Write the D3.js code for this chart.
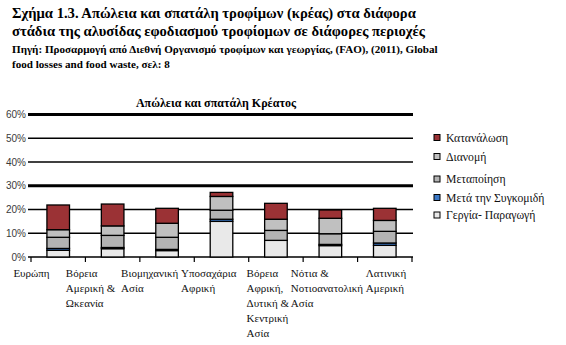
<!DOCTYPE html>
<html><head><meta charset="utf-8">
<script src="https://cdn.jsdelivr.net/npm/d3@7"></script>
<style>
body{margin:0;background:#fff;}
svg{display:block;}
</style></head>
<body>
<svg id="c" width="566" height="345"></svg>
<script>
// ---- data ----
const categories = [
  "Ευρώπη",
  "Βόρεια\nΑμερική &\nΩκεανία",
  "Βιομηχανική\nΑσία",
  "Υποσαχάρια\nΑφρική",
  "Βόρεια\nΑφρική,\nΔυτική &\nΚεντρική\nΑσία",
  "Νότια &\nΝοτιοανατολική\nΑσία",
  "Λατινική\nΑμερική"
];
const seriesNames = ["Γεργία- Παραγωγή", "Μετά την Συγκομιδή", "Μεταποίηση", "Διανομή", "Κατανάλωση"];
const production   = [2.8, 3.5, 2.7, 15.0, 7.0, 4.8, 4.9];
const postHarvest  = [0.8, 0.5, 0.5, 0.9, 0.0, 0.5, 1.0];
const processing   = [4.7, 5.1, 5.1, 3.8, 4.2, 4.5, 4.9];
const distribution = [3.2, 4.0, 5.9, 5.8, 4.7, 6.5, 4.6];
const consumption  = [10.4, 9.2, 6.3, 1.7, 6.7, 3.5, 5.1];
const yTicks = [0, 0.1, 0.2, 0.3, 0.4, 0.5, 0.6];
const titleLines = [
  "Σχήμα 1.3. Απώλεια και σπατάλη τροφίμων (κρέας) στα διάφορα",
  "στάδια της αλυσίδας εφοδιασμού τροφίομων σε διάφορες περιοχές"
];
const sourceLines = [
  "Πηγή: Προσαρμογή από Διεθνή Οργανισμό τροφίμων και γεωργίας, (FAO), (2011),  Global",
  "food losses and food waste, σελ: 8"
];
const chartTitle = "Απώλεια και σπατάλη Κρέατος";

// ---- build ----
const colors = {
  "Γεργία- Παραγωγή": "#e9e9e9",
  "Μετά την Συγκομιδή": "#3b78c6",
  "Μεταποίηση": "#b3b3b3",
  "Διανομή": "#c0c0c0",
  "Κατανάλωση": "#9b3235"
};
const seriesValues = [production, postHarvest, processing, distribution, consumption];
const table = categories.map((c, i) => {
  const row = {cat: c};
  seriesNames.forEach((s, j) => row[s] = seriesValues[j][i] / 100);
  return row;
});

const svg = d3.select("#c");
const serif = "'Liberation Serif','Times New Roman',serif";

// titles
svg.append("g").selectAll("text").data(titleLines).join("text")
  .attr("x", 12).attr("y", (d, i) => 18 + i * 17.5)
  .attr("font-family", serif).attr("font-weight", "bold").attr("font-size", 14.6)
  .text(d => d);
svg.append("g").selectAll("text").data(sourceLines).join("text")
  .attr("x", 12).attr("y", (d, i) => 53 + i * 14.5)
  .attr("font-family", serif).attr("font-weight", "bold").attr("font-size", 11.1)
  .text(d => d);

svg.append("text").attr("x", 216).attr("y", 107).attr("text-anchor", "middle")
  .attr("font-family", serif).attr("font-weight", "bold").attr("font-size", 12)
  .text(chartTitle);

const x = d3.scaleBand().domain(categories).range([31, 412])
  .paddingInner(0.585).paddingOuter(0.2925);
const y = d3.scaleLinear().domain([0, 0.6]).range([257, 114.5]);

// gridlines
svg.append("g").selectAll("line").data(yTicks).join("line")
  .attr("x1", 28).attr("x2", 413)
  .attr("y1", d => y(d)).attr("y2", d => y(d))
  .attr("stroke", "#000")
  .attr("stroke-width", d => (Math.abs(d - 0.3) < 1e-9 || Math.abs(d - 0.6) < 1e-9) ? 3 : 1.5);

// y labels
svg.append("g").selectAll("text").data(yTicks).join("text")
  .attr("x", 26).attr("y", d => y(d)).attr("dy", "0.35em")
  .attr("text-anchor", "end")
  .attr("font-family", "'Liberation Sans',Arial,sans-serif").attr("font-size", 10)
  .attr("fill", "#3a3a3a")
  .text(d => d3.format(".0%")(d));

// ticks at category boundaries
const bounds = categories.map(c => x(c) + x.bandwidth() / 2 - x.step() / 2);
bounds.push(x(categories[categories.length - 1]) + x.bandwidth() / 2 + x.step() / 2);
svg.append("g").selectAll("line").data(bounds).join("line")
  .attr("x1", d => d).attr("x2", d => d).attr("y1", 257).attr("y2", 262)
  .attr("stroke", "#000").attr("stroke-width", 1.2);

// bars
const stack = d3.stack().keys(seriesNames)(table);
svg.append("g").selectAll("g").data(stack).join("g")
  .attr("fill", d => colors[d.key])
  .selectAll("rect").data(d => d).join("rect")
  .attr("x", d => x(d.data.cat))
  .attr("width", x.bandwidth())
  .attr("y", d => y(d[1]))
  .attr("height", d => y(d[0]) - y(d[1]))
  .attr("stroke", "#000").attr("stroke-width", 1.3);

// x labels
const lx = d3.scalePoint().domain(categories).range([31.5, 386]);
categories.forEach(c => {
  const g = svg.append("g");
  const lines = c.split("\n");
  const bg = g.append("rect").attr("fill", "#fff");
  const t = g.append("text").attr("font-family", serif).attr("font-size", 11).attr("fill", "#111");
  t.selectAll("tspan").data(lines).join("tspan")
    .attr("y", (d, i) => 277 + i * 15).text(d => d);
  let w = 0;
  t.selectAll("tspan").each(function () { w = Math.max(w, this.getComputedTextLength()); });
  const left = lx(c) - w / 2;
  t.selectAll("tspan").attr("x", left);
  bg.attr("x", left - 1).attr("y", 266).attr("width", w + 1).attr("height", lines.length * 15 + 2);
});

// legend
const legendOrder = seriesNames.slice().reverse();
const legendY = [137.5, 156.5, 179, 197.5, 215];
const lg = svg.append("g").selectAll("g").data(legendOrder).join("g")
  .attr("transform", (d, i) => `translate(434,${legendY[i]})`);
lg.append("rect").attr("x", 0).attr("y", -3).attr("width", 6).attr("height", 6)
  .attr("fill", d => colors[d]).attr("stroke", "#000").attr("stroke-width", 1);
lg.append("text").attr("x", 12).attr("dy", "0.35em")
  .attr("font-family", serif).attr("font-size", 11.7).attr("fill", "#111")
  .text(d => d);
</script>
</body></html>
